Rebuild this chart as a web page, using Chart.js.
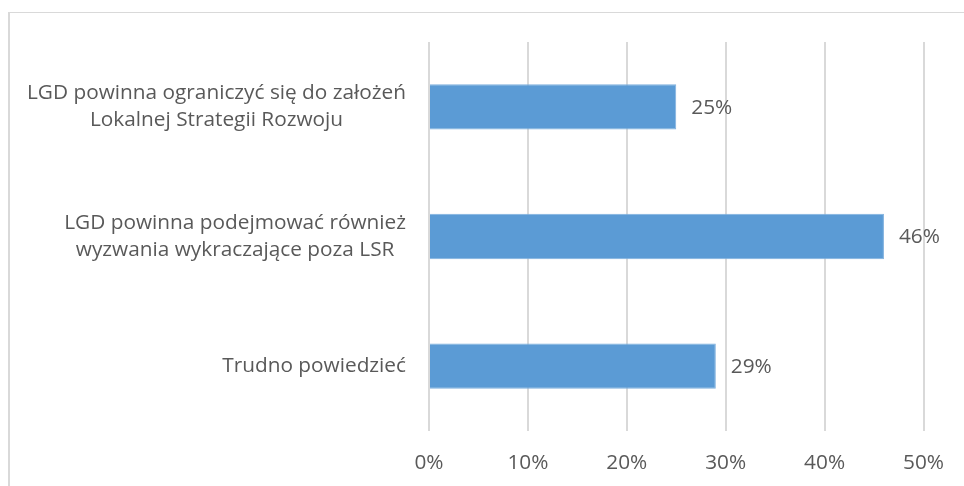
<!DOCTYPE html>
<html>
<head>
<meta charset="utf-8">
<script src="https://cdn.jsdelivr.net/npm/chart.js@4"></script>
<style>
  html, body { margin: 0; padding: 0; background: #fff; overflow: hidden; }
  #wrap { position: relative; width: 964px; height: 486px; }
  #frame { position: absolute; left: 8px; top: 12px; width: 1000px; height: 1000px;
           border-left: 2px solid #d9d9d9; border-top: 1px solid #d9d9d9; }
  canvas { position: absolute; left: 0; top: 0; }
</style>
</head>
<body>
<div id="wrap">
  <div id="frame"></div>
  <canvas id="chart" width="964" height="486"></canvas>
</div>
<script>
// Categories (each label split into lines)
const categories = [
  ['LGD powinna ograniczyć się do założeń', 'Lokalnej Strategii Rozwoju'],
  ['LGD powinna podejmować również', 'wyzwania wykraczające poza LSR'],
  ['Trudno powiedzieć']
];

// Series values (percent)
const values = [25, 46, 29];

// X axis ticks
const xTicks = [0, 10, 20, 30, 40, 50];

const fontFamily = '"Open Sans", Lato, sans-serif';
const fontSize = 20.8;
const textColor = '#595959';
const barColor = '#5b9bd5';

// Draw category labels: lines centered, block right-aligned
const categoryLabels = {
  id: 'categoryLabels',
  afterDraw(chart) {
    const ctx = chart.ctx;
    const yScale = chart.scales.y;
    const right = yScale.right - 23;
    const lineHeight = 27;
    ctx.save();
    ctx.font = fontSize + 'px ' + fontFamily;
    ctx.fillStyle = textColor;
    ctx.textAlign = 'center';
    ctx.textBaseline = 'middle';
    categories.forEach((lines, i) => {
      const maxW = Math.max(...lines.map(l => ctx.measureText(l).width));
      const cx = right - maxW / 2;
      const cy = yScale.getPixelForTick(i);
      const startY = cy - (lines.length - 1) * lineHeight / 2;
      lines.forEach((line, j) => {
        ctx.fillText(line, cx, startY + j * lineHeight);
      });
    });
    ctx.restore();
  }
};

// Value labels at the end of each bar
const valueLabels = {
  id: 'valueLabels',
  afterDatasetsDraw(chart) {
    const ctx = chart.ctx;
    const meta = chart.getDatasetMeta(0);
    ctx.save();
    ctx.font = fontSize + 'px ' + fontFamily;
    ctx.fillStyle = textColor;
    ctx.textAlign = 'left';
    ctx.textBaseline = 'middle';
    meta.data.forEach((bar, i) => {
      ctx.fillText(values[i] + '%', bar.x + 15, bar.y + 1);
    });
    ctx.restore();
  }
};

const chart = new Chart(document.getElementById('chart'), {
  type: 'bar',
  data: {
    labels: categories.map(c => c.join(' ')),
    datasets: [{
      data: values,
      backgroundColor: barColor,
      borderColor: '#7eb0de',
      borderWidth: 1,
      barPercentage: 0.35,
      categoryPercentage: 1
    }]
  },
  options: {
    indexAxis: 'y',
    responsive: false,
    animation: false,
    devicePixelRatio: 1,
    layout: { padding: { top: 42, right: 40, left: 0, bottom: 0 } },
    plugins: {
      legend: { display: false },
      tooltip: { enabled: false }
    },
    scales: {
      x: {
        min: 0,
        max: 50,
        afterBuildTicks(scale) {
          scale.ticks = xTicks.map(v => ({ value: v }));
        },
        afterFit(scale) { scale.height = 55; },
        grid: { color: '#d9d9d9', lineWidth: 2, drawTicks: false },
        border: { display: false },
        ticks: {
          padding: 20,
          color: textColor,
          font: { family: fontFamily, size: fontSize },
          callback: v => v + '%'
        }
      },
      y: {
        afterFit(scale) { scale.width = 429; },
        grid: { display: false },
        border: { display: false },
        ticks: { display: false }
      }
    }
  },
  plugins: [categoryLabels, valueLabels]
});
</script>
</body>
</html>
